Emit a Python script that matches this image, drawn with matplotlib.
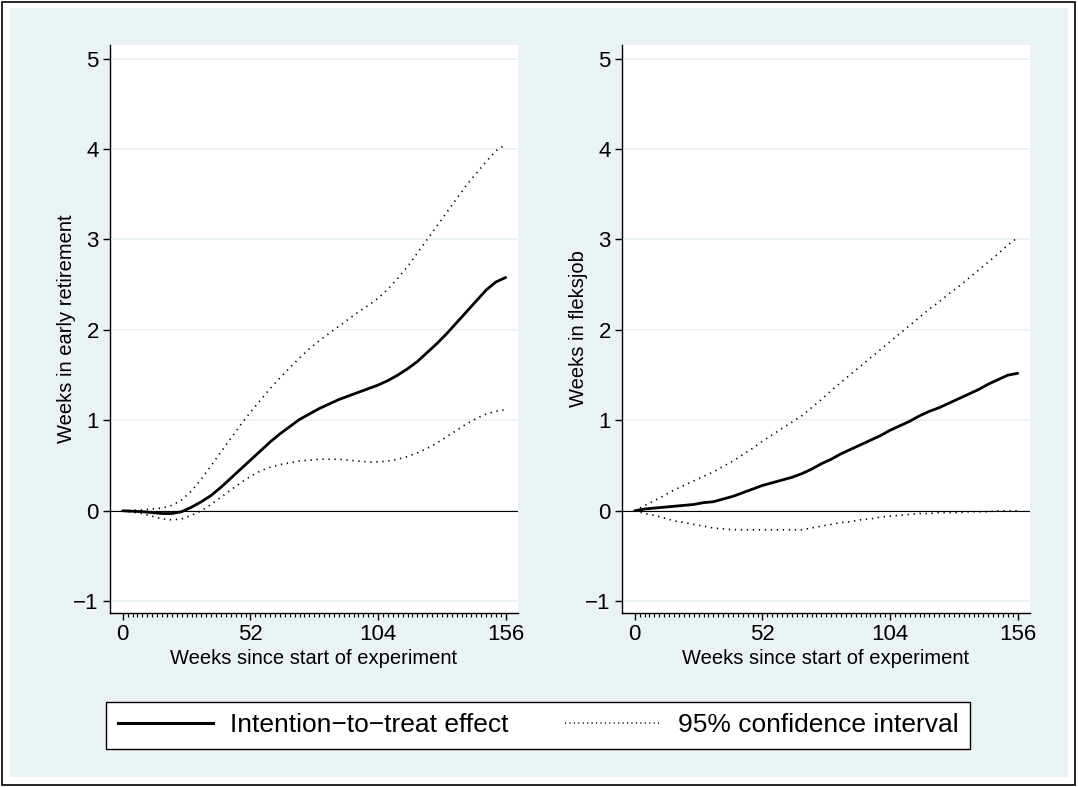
import numpy as np
import matplotlib
matplotlib.use("Agg")
import matplotlib.pyplot as plt
from matplotlib.patches import Rectangle
from matplotlib.lines import Line2D

plt.rcParams['font.family'] = ['Liberation Sans', 'DejaVu Sans']

# weeks since start of experiment (every 4 weeks)
weeks = [0, 4, 8, 12, 16, 20, 24, 28, 32, 36, 40, 44, 48, 52, 56, 60, 64, 68, 72, 76,
         80, 84, 88, 92, 96, 100, 104, 108, 112, 116, 120, 124, 128, 132, 136, 140,
         144, 148, 152, 156]

# early retirement panel
er_itt = [0, -0.005, -0.01, -0.02, -0.03, -0.03, -0.01, 0.04, 0.10, 0.17, 0.26, 0.36,
          0.46, 0.56, 0.66, 0.76, 0.85, 0.93, 1.01, 1.07, 1.13, 1.18, 1.23, 1.27, 1.31,
          1.35, 1.39, 1.44, 1.50, 1.57, 1.65, 1.75, 1.85, 1.96, 2.08, 2.20, 2.32, 2.44,
          2.53, 2.58]
er_hi = [0, 0.005, 0.01, 0.02, 0.03, 0.06, 0.12, 0.22, 0.35, 0.50, 0.65, 0.80, 0.95,
         1.09, 1.22, 1.35, 1.47, 1.58, 1.69, 1.79, 1.88, 1.96, 2.04, 2.12, 2.20, 2.27,
         2.35, 2.45, 2.57, 2.70, 2.85, 3.00, 3.15, 3.30, 3.45, 3.60, 3.73, 3.86, 3.98,
         4.05]
er_lo = [0, -0.015, -0.03, -0.06, -0.09, -0.10, -0.09, -0.05, 0.0, 0.07, 0.15, 0.23,
         0.31, 0.38, 0.44, 0.48, 0.51, 0.53, 0.55, 0.56, 0.57, 0.57, 0.57, 0.56, 0.55,
         0.54, 0.54, 0.55, 0.57, 0.60, 0.64, 0.69, 0.75, 0.82, 0.89, 0.96, 1.02, 1.07,
         1.10, 1.12]

# fleksjob panel
fj_itt = [0, 0.02, 0.03, 0.04, 0.05, 0.06, 0.07, 0.09, 0.10, 0.13, 0.16, 0.20, 0.24,
          0.28, 0.31, 0.34, 0.37, 0.41, 0.46, 0.52, 0.57, 0.63, 0.68, 0.73, 0.78, 0.83,
          0.89, 0.94, 0.99, 1.05, 1.10, 1.14, 1.19, 1.24, 1.29, 1.34, 1.40, 1.45, 1.50,
          1.52]
fj_hi = [0, 0.06, 0.11, 0.17, 0.23, 0.28, 0.33, 0.38, 0.43, 0.49, 0.55, 0.62, 0.69,
         0.77, 0.84, 0.91, 0.98, 1.05, 1.14, 1.23, 1.33, 1.42, 1.51, 1.60, 1.69, 1.78,
         1.87, 1.96, 2.05, 2.14, 2.23, 2.31, 2.40, 2.48, 2.57, 2.66, 2.75, 2.84, 2.94,
         3.02]
fj_lo = [0, -0.03, -0.05, -0.08, -0.11, -0.13, -0.15, -0.17, -0.19, -0.20, -0.21,
         -0.21, -0.21, -0.21, -0.21, -0.21, -0.21, -0.21, -0.19, -0.17, -0.15, -0.13,
         -0.12, -0.10, -0.09, -0.07, -0.06, -0.05, -0.04, -0.03, -0.03, -0.02, -0.02,
         -0.02, -0.01, -0.01, -0.01, 0.0, 0.0, 0.0]

ylabels = ["Weeks in early retirement", "Weeks in fleksjob"]
xlabel = "Weeks since start of experiment"
legend_labels = ["Intention\u2212to\u2212treat effect", "95% confidence interval"]

bg = "#EAF2F3"
W, H = 1078, 787
fig = plt.figure(figsize=(W / 100, H / 100), dpi=100, facecolor="white")

# stata style outer region + border
fig.patches.append(Rectangle((10 / W, 1 - 777 / H), 1058 / W, 769 / H,
                             transform=fig.transFigure, facecolor=bg, edgecolor="none", zorder=-2))
fig.patches.append(Rectangle((2 / W, 1 - 785 / H), 1073 / W, 783 / H,
                             transform=fig.transFigure, facecolor="none", edgecolor="black",
                             lw=1.2, zorder=-1))

dots = (0, (0.8, 2.8))
panels = [(er_itt, er_lo, er_hi, 110), (fj_itt, fj_lo, fj_hi, 622)]
for i, (itt, lo, hi, left) in enumerate(panels):
    ax = fig.add_axes([left / W, 1 - 613 / H, 408 / W, 568 / H])
    ax.set_zorder(2)
    ax.set_facecolor("white")
    ax.plot(weeks, hi, color="black", lw=1.2, linestyle=dots)
    ax.plot(weeks, lo, color="black", lw=1.2, linestyle=dots)
    ax.plot(weeks, itt, color="black", lw=2.0, solid_capstyle="round")
    ax.axhline(0, color="black", lw=0.8, zorder=1)
    ax.set_xlim(-5.2, 161)
    ax.set_ylim(-1.13, 5.15)
    ax.set_yticks(range(-1, 6))
    ax.set_xticks([0, 52, 104, 156])
    ax.set_xticks(np.arange(0, 157, 2), minor=True)
    ax.grid(axis="y", color=bg, lw=1.3, zorder=0)
    ax.set_axisbelow(True)
    for s in ["top", "right"]:
        ax.spines[s].set_visible(False)
    for s in ["left", "bottom"]:
        ax.spines[s].set_linewidth(1.0)
    ax.tick_params(axis="both", which="major", length=5, width=1.0, labelsize=16, pad=3)
    ax.tick_params(axis="x", which="minor", length=3, width=0.8)
    ax.tick_params(axis="y", which="minor", left=False)
    ax.set_ylabel(ylabels[i], fontsize=14.5, labelpad=-2)
    ax.set_xlabel(xlabel, fontsize=14.5, labelpad=3)

handles = [Line2D([], [], color="black", lw=2.2),
           Line2D([], [], color="black", lw=1.1, linestyle=(0, (0.7, 2.2)))]
leg = fig.legend(handles, legend_labels, ncol=2, loc="center", mode="expand",
                 bbox_to_anchor=(106 / W, 1 - 751 / H, 864 / W, 51 / H),
                 borderaxespad=0, fontsize=19, frameon=True, fancybox=False,
                 edgecolor="black", framealpha=1, handlelength=3.6, handletextpad=0.65,
                 columnspacing=1.5, borderpad=0.45)
leg.get_frame().set_linewidth(1.0)

fig.savefig("out.png", dpi=100, facecolor="white")
